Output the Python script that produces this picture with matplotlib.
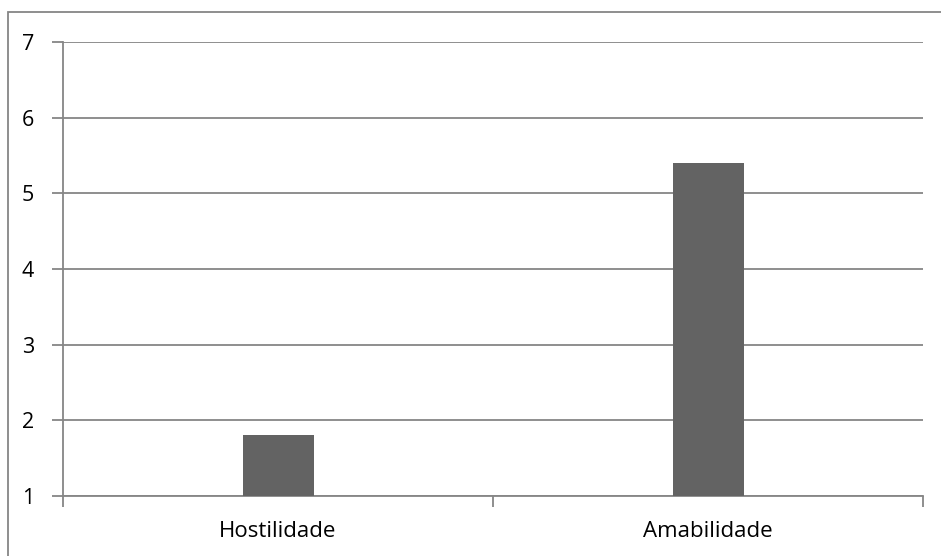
import matplotlib.pyplot as plt
from matplotlib.patches import Rectangle

categories = ['Hostilidade', 'Amabilidade']
values = [1.8, 5.4]
y_ticks = [1, 2, 3, 4, 5, 6, 7]

grid_color = '#868686'
bar_color = '#636363'

plt.rcParams['font.family'] = ['Open Sans', 'DejaVu Sans']

fig = plt.figure(figsize=(9.41, 5.56), dpi=100)
ax = fig.add_axes([0.0670, 0.1079, 0.9139, 0.8166])

x = [i + 0.5 for i in range(len(categories))]
ax.bar(x, [v - 1 for v in values], bottom=1, width=0.165, color=bar_color, zorder=3)

ax.set_xlim(0, len(categories))
ax.set_ylim(1, 7)
ax.set_yticks(y_ticks)
ax.set_yticklabels([str(t) for t in y_ticks], fontsize=15.5)
ax.yaxis.grid(True, color=grid_color, linewidth=1.3, zorder=0)

# category labels centred in each slot, tick marks on slot boundaries
ax.set_xticks(range(len(categories) + 1))
ax.set_xticklabels([])
ax.set_xticks(x, minor=True)
ax.set_xticklabels(categories, minor=True, fontsize=16)
ax.tick_params(axis='x', which='minor', length=0, pad=18)
ax.tick_params(axis='x', which='major', length=8, width=1.3, color=grid_color)
ax.tick_params(axis='y', length=8, width=1.3, color=grid_color, pad=13)

for side in ['top', 'right']:
    ax.spines[side].set_visible(False)
for side in ['left', 'bottom']:
    ax.spines[side].set_color(grid_color)
    ax.spines[side].set_linewidth(1.3)

# chart frame, running off the right and bottom edges
fig.patches.append(Rectangle((8 / 941, -10 / 556), 950 / 941, 554 / 556,
                             transform=fig.transFigure, fill=False,
                             edgecolor=grid_color, linewidth=1.3))

fig.savefig('out.png', dpi=100)
